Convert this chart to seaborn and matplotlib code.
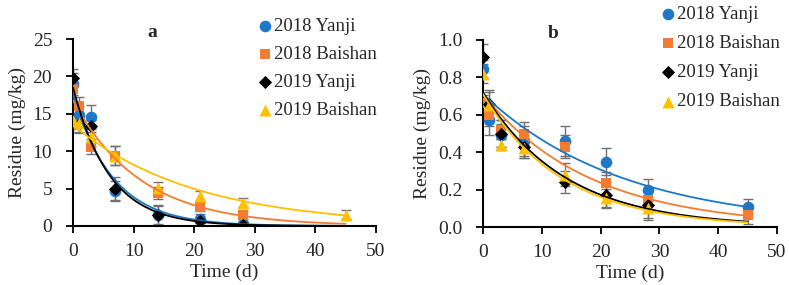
import numpy as np
import pandas as pd
import matplotlib
matplotlib.use("Agg")
import matplotlib.pyplot as plt
import seaborn as sns

days = [0, 1, 3, 7, 14, 21, 28, 45]
series = ["2018 Yanji", "2018 Baishan", "2019 Yanji", "2019 Baishan"]
nan = np.nan

# Panel a values (mg/kg)
a_2018_yanji = [19.0, 14.8, 14.6, 4.7, 1.5, 1.0, 0.3, nan]
a_2018_baishan = [18.3, 16.0, 10.6, 9.4, 4.4, 2.6, 1.5, nan]
a_2019_yanji = [19.8, 13.6, 13.4, 5.0, 1.5, 0.7, 0.2, nan]
a_2019_baishan = [14.0, 13.8, 11.9, 9.4, 5.1, 4.0, 3.1, 1.5]
a_err_2018_yanji = [1.5, 1.2, 1.6, 1.3, 1.2, 0.6, 0.3, nan]
a_err_2018_baishan = [1.0, 1.3, 1.0, 1.3, 0.8, 0.6, 0.5, nan]
a_err_2019_yanji = [1.2, 1.2, 0.8, 1.5, 1.3, 0.3, 0.3, nan]
a_err_2019_baishan = [1.0, 1.2, 1.2, 1.3, 0.8, 0.7, 0.6, 0.6]
# first-order fit parameters (C0, k) for panel a
a_fit_c0 = [17.5, 16.8, 18.5, 13.5]
a_fit_k = [0.151, 0.090, 0.166, 0.050]

# Panel b values (mg/kg)
b_2018_yanji = [0.845, 0.57, 0.49, 0.46, 0.46, 0.35, 0.20, 0.108]
b_2018_baishan = [0.665, 0.60, 0.52, 0.50, 0.43, 0.235, 0.145, 0.065]
b_2019_yanji = [0.91, 0.66, 0.50, 0.43, 0.24, 0.17, 0.12, nan]
b_2019_baishan = [0.82, 0.65, 0.44, 0.42, 0.28, 0.155, 0.10, nan]
b_err_2018_yanji = [0.05, 0.08, 0.06, 0.08, 0.08, 0.07, 0.055, 0.04]
b_err_2018_baishan = [0.04, 0.06, 0.05, 0.06, 0.06, 0.06, 0.05, 0.05]
b_err_2019_yanji = [0.07, 0.07, 0.07, 0.06, 0.06, 0.07, 0.07, nan]
b_err_2019_baishan = [0.05, 0.07, 0.03, 0.05, 0.06, 0.05, 0.06, nan]
b_fit_c0 = [0.71, 0.71, 0.72, 0.71]
b_fit_k = [0.042, 0.055, 0.0715, 0.0745]

colors = ["#1F77C8", "#F47C30", "#000000", "#FFC000"]
markers = ["o", "s", "D", "^"]
sizes = [70, 60, 45, 75]

sns.set_theme(style="white")
plt.rcParams["font.family"] = ["Liberation Serif", "DejaVu Serif"]
plt.rcParams["font.size"] = 14

fig = plt.figure(figsize=(7.89, 2.85), dpi=100)
ax_a = fig.add_axes([73/789, 1-226/285, (376-73)/789, (226-39)/285])
ax_b = fig.add_axes([483/789, 1-227/285, (777-483)/789, (227-40)/285])


def draw(ax, vals, errs, c0s, ks, ymax, ystep, title, title_x, fmt, leg_xy, leg_space):
    t = np.linspace(0, 45, 200)
    for name, v, e, c0, k, col, m, s in zip(series, vals, errs, c0s, ks, colors, markers, sizes):
        df = pd.DataFrame({"t": days, "y": v, "e": e}).dropna()
        ax.errorbar(df["t"], df["y"], yerr=df["e"], fmt="none", ecolor="#707070",
                    elinewidth=1.0, capsize=3.5, capthick=1.0, zorder=2)
        sns.scatterplot(x=df["t"], y=df["y"], ax=ax, color=col, marker=m, s=s,
                        edgecolor=col, linewidth=0, label=name, zorder=3)
        fit = pd.DataFrame({"t": t, "y": c0 * np.exp(-k * t)})
        sns.lineplot(data=fit, x="t", y="y", ax=ax, color=col, lw=1.3, zorder=4,
                     legend=False)
    ax.set_xlim(0, 50)
    ax.set_ylim(0, ymax)
    ax.set_xticks(np.arange(0, 51, 10))
    ax.set_yticks(np.arange(0, ymax + 1e-9, ystep))
    ax.set_yticklabels([fmt.format(v) for v in np.arange(0, ymax + 1e-9, ystep)])
    for sp in ["top", "right"]:
        ax.spines[sp].set_visible(False)
    for sp in ["left", "bottom"]:
        ax.spines[sp].set_color("black")
        ax.spines[sp].set_linewidth(1.5)
    ax.tick_params(axis="both", direction="out", length=5, width=1.3, color="black",
                   labelsize=14, left=True, bottom=True)
    ax.tick_params(axis="y", pad=10)
    ax.tick_params(axis="x", pad=7)
    ax.set_xlabel("Time (d)", fontsize=14, labelpad=3)
    ax.set_ylabel("Residue (mg/kg)", fontsize=14, labelpad=5)
    ax.text(title_x, 1.037, title, transform=ax.transAxes, fontsize=14,
            fontweight="bold", ha="center", va="center")
    ax.legend(loc="upper left", bbox_to_anchor=leg_xy, bbox_transform=fig.transFigure,
              frameon=False, handletextpad=0.1, handlelength=0.8, borderpad=0,
              borderaxespad=0, labelspacing=leg_space, fontsize=13.5)


draw(ax_a, [a_2018_yanji, a_2018_baishan, a_2019_yanji, a_2019_baishan],
     [a_err_2018_yanji, a_err_2018_baishan, a_err_2019_yanji, a_err_2019_baishan],
     a_fit_c0, a_fit_k, 25, 5, "a", 0.26, "{:.0f}", (257.5/789, 1-18/285), 0.57)
draw(ax_b, [b_2018_yanji, b_2018_baishan, b_2019_yanji, b_2019_baishan],
     [b_err_2018_yanji, b_err_2018_baishan, b_err_2019_yanji, b_err_2019_baishan],
     b_fit_c0, b_fit_k, 1.0, 0.2, "b", 0.24, "{:.1f}", (660.5/789, 1-6/285), 0.64)

fig.savefig("out.png", dpi=100)
